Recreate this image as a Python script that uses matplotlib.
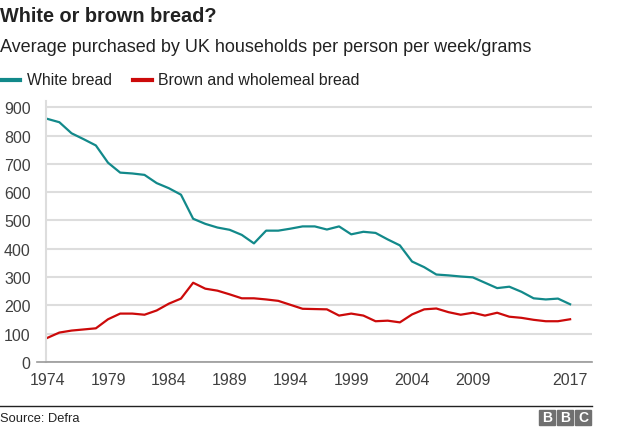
import matplotlib

matplotlib.use("Agg")
import matplotlib.pyplot as plt
from matplotlib.patches import Rectangle
from matplotlib.lines import Line2D

plt.rcParams["font.family"] = ["Liberation Sans", "DejaVu Sans"]

years = list(range(1974, 2018))
white_bread = [
    859, 847, 808, 787, 765, 704, 669, 666, 661, 632,
    614, 591, 506, 488, 475, 467, 449, 419, 464, 464,
    471, 479, 479, 468, 479, 451, 460, 456, 433, 412,
    355, 335, 309, 306, 302, 299, 280, 261, 266, 248,
    225, 221, 224, 204,
]
brown_bread = [
    85, 104, 111, 115, 119, 151, 171, 171, 167, 182,
    206, 224, 280, 259, 252, 239, 225, 225, 221, 216,
    202, 188, 187, 186, 164, 171, 164, 144, 146, 140,
    168, 186, 189, 176, 167, 174, 164, 174, 160, 156,
    149, 144, 144, 151,
]
x_ticks = [1974, 1979, 1984, 1989, 1994, 1999, 2004, 2009, 2017]
y_ticks = [0, 100, 200, 300, 400, 500, 600, 700, 800, 900]

TEAL = "#12898a"
RED = "#cc0a0a"
TEXT = "#404040"
DARK = "#222222"

W, H = 624, 431
fig = plt.figure(figsize=(W / 100, H / 100), dpi=100)
ax = fig.add_axes([46 / W, (H - 363) / H, (592 - 46) / W, (363 - 102) / H])

ax.plot(years, white_bread, color=TEAL, linewidth=1.6, solid_joinstyle="round")
ax.plot(years, brown_bread, color=RED, linewidth=1.6, solid_joinstyle="round")

ax.set_xlim(1973.9, 2018.8)
ax.set_ylim(0, 922)
ax.set_xticks(x_ticks)
ax.set_yticks(y_ticks)
ax.tick_params(axis="both", length=0, labelsize=11.5, colors=TEXT)
ax.tick_params(axis="x", pad=7)
ax.tick_params(axis="y", pad=11)
ax.yaxis.grid(True, color="#dddddd", linewidth=1.5)
ax.set_axisbelow(True)
for side in ("top", "right"):
    ax.spines[side].set_visible(False)
ax.spines["left"].set_color("#dddddd")
ax.spines["left"].set_linewidth(1.5)
ax.spines["bottom"].set_color("#999999")
ax.spines["bottom"].set_linewidth(1.2)
ax.spines["bottom"].set_bounds(1973.15, 2018.8)

# titles
fig.text(0, 1 - 16 / H, "White or brown bread?", fontsize=14.3,
         fontweight="bold", color=DARK, va="center", ha="left")
fig.text(0, 1 - 47 / H, "Average purchased by UK households per person per week/grams",
         fontsize=13, color=DARK, va="center", ha="left")

# legend
ly = 1 - 81 / H
fig.add_artist(Line2D([0, 20 / W], [ly, ly], color=TEAL, linewidth=3))
fig.text(27 / W, ly, "White bread", fontsize=11.3, color=DARK, va="center")
fig.add_artist(Line2D([133 / W, 152 / W], [ly, ly], color=RED, linewidth=3))
fig.text(158 / W, ly, "Brown and wholemeal bread", fontsize=11.4, color=DARK, va="center")

# footer
fig.add_artist(Line2D([0, 592 / W], [1 - 407 / H, 1 - 407 / H], color=DARK, linewidth=1))
fig.text(0, 1 - 419 / H, "Source: Defra", fontsize=9.3, color=DARK, va="center")
for i, letter in enumerate("BBC"):
    x0 = (539 + i * 18) / W
    fig.add_artist(Rectangle((x0, 1 - 426 / H), 16 / W, 15 / H,
                             transform=fig.transFigure, color="#707070"))
    fig.text(x0 + 8 / W, 1 - 418.5 / H, letter, fontsize=10, fontweight="bold",
             color="white", ha="center", va="center")

fig.savefig("out.png", dpi=100)
